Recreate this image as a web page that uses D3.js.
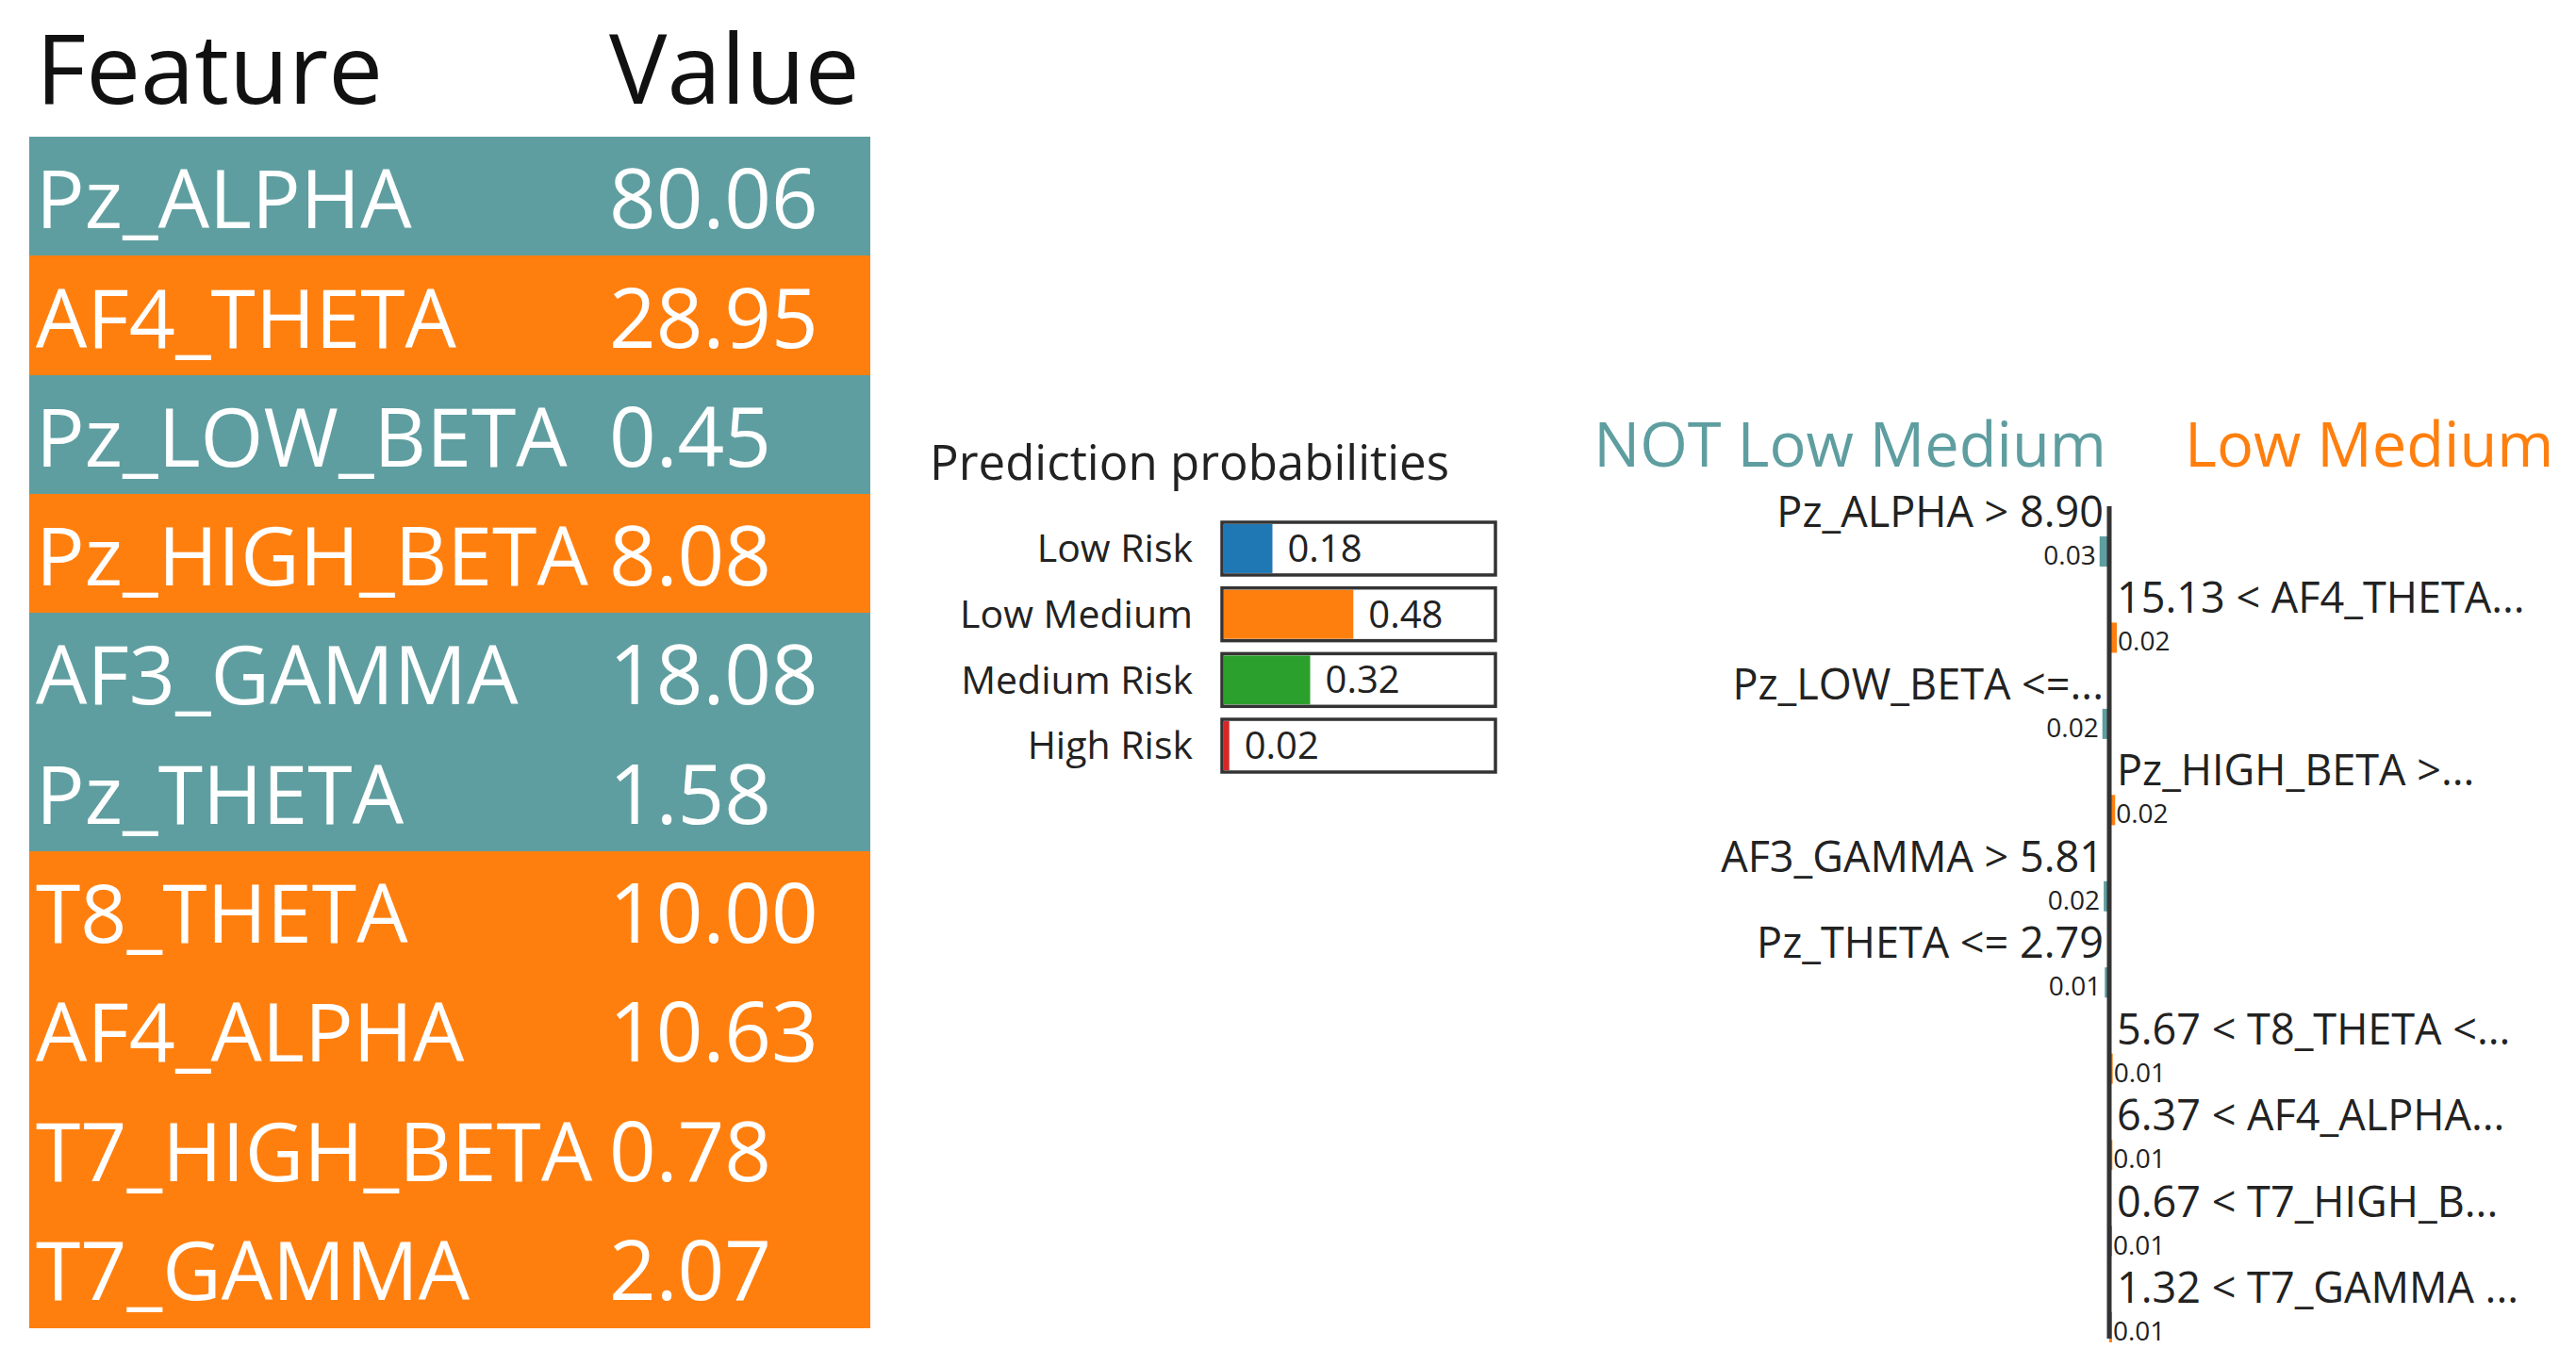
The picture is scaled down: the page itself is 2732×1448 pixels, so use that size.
<!DOCTYPE html>
<html>
<head>
<meta charset="utf-8">
<script src="https://cdn.jsdelivr.net/npm/d3@7"></script>
<style>
  body { margin: 0; background: #fff; }
  svg { display: block; font-family: "Open Sans", "Noto Sans", sans-serif; }
</style>
</head>
<body>
<svg id="chart"></svg>
<script>
var width = 2732, height = 1448;

// feature table
var tableFeatures = ["Pz_ALPHA", "AF4_THETA", "Pz_LOW_BETA", "Pz_HIGH_BETA", "AF3_GAMMA",
  "Pz_THETA", "T8_THETA", "AF4_ALPHA", "T7_HIGH_BETA", "T7_GAMMA"];
var tableValues = [80.06, 28.95, 0.45, 8.08, 18.08, 1.58, 10.00, 10.63, 0.78, 2.07];

// prediction probabilities
var classNames = ["Low Risk", "Low Medium", "Medium Risk", "High Risk"];
var classProbs = [0.18, 0.48, 0.32, 0.02];
var classColors = ["#1f77b4", "#ff7f0e", "#2ca02c", "#d62728"];

// explanation for "Low Medium"
var ruleLabels = ["Pz_ALPHA > 8.90", "15.13 < AF4_THETA...", "Pz_LOW_BETA <=...", "Pz_HIGH_BETA >...",
  "AF3_GAMMA > 5.81", "Pz_THETA <= 2.79", "5.67 < T8_THETA <...", "6.37 < AF4_ALPHA...",
  "0.67 < T7_HIGH_B...", "1.32 < T7_GAMMA ..."];
var ruleWeights = [-0.028, 0.022, -0.020, 0.017, -0.016, -0.013, 0.010, 0.009, 0.008, 0.008];

var teal = "#5f9ea0", orange = "#ff7f0e";
var fmt = d3.format(".2f");

var svg = d3.select("#chart")
  .attr("width", width)
  .attr("height", height);

svg.append("rect").attr("width", width).attr("height", height).attr("fill", "#fff");

// ---- table ----
var rowY = d3.scaleBand()
  .domain(d3.range(tableFeatures.length))
  .range([145, 1408]);

var table = svg.append("g");

table.append("text")
  .attr("x", 38).attr("y", 110)
  .attr("font-size", 103)
  .attr("fill", "#111")
  .text("Feature");

table.append("text")
  .attr("x", 646).attr("y", 110)
  .attr("font-size", 103)
  .attr("fill", "#111")
  .text("Value");

var rows = table.selectAll(".row")
  .data(tableFeatures)
  .enter()
  .append("g")
  .attr("class", "row")
  .attr("transform", (d, i) => "translate(0," + rowY(i) + ")");

rows.append("rect")
  .attr("x", 31)
  .attr("width", 892)
  .attr("height", rowY.bandwidth() + 1)
  .attr("shape-rendering", "crispEdges")
  .attr("fill", (d, i) => ruleWeights[i] < 0 ? teal : orange);

rows.append("text")
  .attr("x", 38)
  .attr("y", rowY.bandwidth() * 0.77)
  .attr("font-size", 86)
  .attr("fill", "#fff")
  .text(d => d);

rows.append("text")
  .attr("x", 646)
  .attr("y", rowY.bandwidth() * 0.77)
  .attr("font-size", 87)
  .attr("fill", "#fff")
  .text((d, i) => fmt(tableValues[i]));

// ---- prediction probabilities ----
var probY = d3.scaleBand()
  .domain(classNames)
  .range([554, 819])
  .paddingInner(0.197);

var probX = d3.scaleLinear()
  .domain([0, 1])
  .range([1298, 1584]);

var probs = svg.append("g");

probs.append("text")
  .attr("x", 986).attr("y", 509)
  .attr("font-size", 51)
  .attr("fill", "#222")
  .text("Prediction probabilities");

var pr = probs.selectAll(".prob")
  .data(classNames)
  .enter()
  .append("g")
  .attr("class", "prob")
  .attr("transform", d => "translate(0," + probY(d) + ")");

pr.append("text")
  .attr("x", 1265)
  .attr("y", probY.bandwidth() / 2)
  .attr("dy", "0.35em")
  .attr("text-anchor", "end")
  .attr("font-size", 41)
  .attr("fill", "#222")
  .text(d => d);

pr.append("rect")
  .attr("x", probX(0))
  .attr("y", 2)
  .attr("width", (d, i) => probX(classProbs[i]) - probX(0))
  .attr("height", probY.bandwidth() - 4)
  .attr("fill", (d, i) => classColors[i]);

pr.append("rect")
  .attr("x", probX(0) - 2)
  .attr("width", probX(1) - probX(0) + 4)
  .attr("height", probY.bandwidth())
  .attr("fill", "none")
  .attr("stroke", "#333")
  .attr("stroke-width", 3.5);

pr.append("text")
  .attr("x", (d, i) => probX(classProbs[i]) + 16)
  .attr("y", probY.bandwidth() / 2)
  .attr("dy", "0.35em")
  .attr("font-size", 40)
  .attr("fill", "#222")
  .text((d, i) => fmt(classProbs[i]));

// ---- explanation ----
var axisX = 2237;
var wScale = d3.scaleLinear()
  .domain([0, 0.03])
  .range([0, 11]);

var ruleY = d3.scalePoint()
  .domain(d3.range(ruleLabels.length))
  .range([545, 1368]);

var expl = svg.append("g");

expl.append("text")
  .attr("x", 2234).attr("y", 495)
  .attr("text-anchor", "end")
  .attr("font-size", 65)
  .attr("fill", teal)
  .text("NOT Low Medium");

expl.append("text")
  .attr("x", 2317).attr("y", 495)
  .attr("font-size", 65)
  .attr("fill", orange)
  .text("Low Medium");

var rl = expl.selectAll(".rule")
  .data(ruleLabels)
  .enter()
  .append("g")
  .attr("class", "rule")
  .attr("transform", (d, i) => "translate(0," + ruleY(i) + ")");

rl.append("rect")
  .attr("x", (d, i) => ruleWeights[i] < 0 ? axisX - wScale(-ruleWeights[i]) : axisX)
  .attr("y", 24)
  .attr("width", (d, i) => wScale(Math.abs(ruleWeights[i])))
  .attr("height", 32)
  .attr("fill", (d, i) => ruleWeights[i] < 0 ? teal : orange);

rl.append("text")
  .attr("x", (d, i) => ruleWeights[i] < 0 ? axisX - 6 : axisX + 8)
  .attr("y", 14)
  .attr("font-size", 45)
  .attr("text-anchor", (d, i) => ruleWeights[i] < 0 ? "end" : "start")
  .attr("fill", "#222")
  .text(d => d);

rl.append("text")
  .attr("x", (d, i) => ruleWeights[i] < 0 ? axisX - wScale(-ruleWeights[i]) - 4 : axisX + wScale(ruleWeights[i]) + 1)
  .attr("y", 54)
  .attr("text-anchor", (d, i) => ruleWeights[i] < 0 ? "end" : "start")
  .attr("font-size", 28)
  .attr("fill", "#222")
  .text((d, i) => fmt(Math.abs(ruleWeights[i])));

expl.append("line")
  .attr("x1", axisX).attr("x2", axisX)
  .attr("y1", ruleY(0) - 8)
  .attr("y2", 1420)
  .attr("stroke", "#333")
  .attr("stroke-width", 5);
</script>
</body>
</html>
